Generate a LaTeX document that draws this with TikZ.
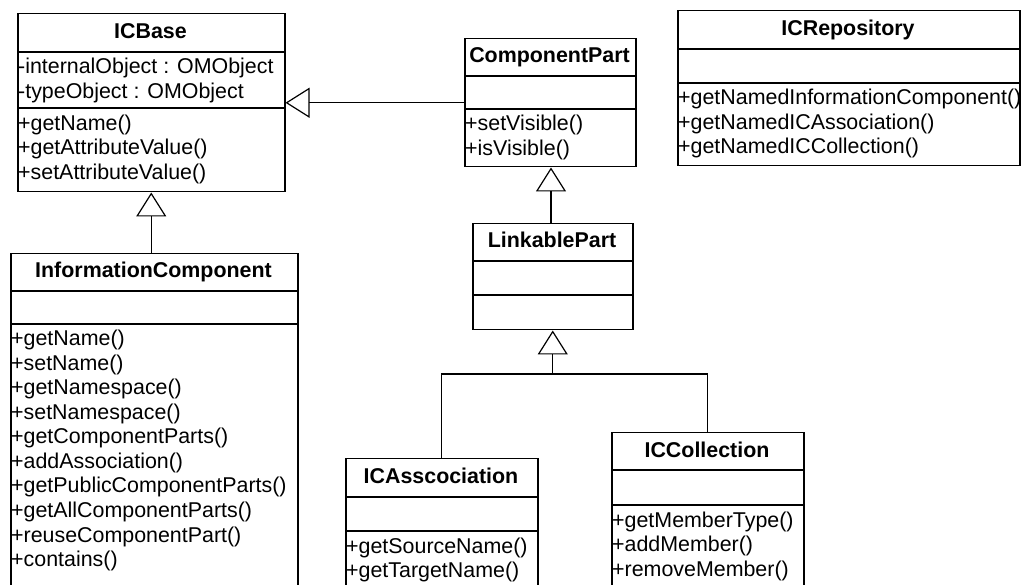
\documentclass[tikz,border=0pt]{standalone}
\usepackage{fontspec}
\setmainfont{Liberation Sans}
\usetikzlibrary{arrows.meta}
\begin{document}
\begin{tikzpicture}[x=1pt,y=-1pt,
  cls/.style={draw, line width=1.5pt, rectangle, inner sep=0pt, anchor=north west},
  sepline/.style={line width=1.5pt},
  ttl/.style={anchor=base, inner sep=0pt, font=\fontsize{21.4}{24.5}\selectfont\bfseries},
  mem/.style={anchor=base west, inner sep=0pt, font=\fontsize{21.4}{24.5}\selectfont},
  gen/.style={line width=1.2pt, -{Triangle[open, length=24pt, width=30pt, line width=1.2pt]}},
  link/.style={line width=1.2pt}]
\fill[white] (0,0) rectangle (1021,585);
\useasboundingbox (0,0) rectangle (1021,585);

% ICBase
\node[cls, minimum width=267pt, minimum height=178pt] (icbase) at (17,13) {};
\draw[sepline] (icbase.west |- 0,52) -- (icbase.east |- 0,52);
\draw[sepline] (icbase.west |- 0,108) -- (icbase.east |- 0,108);
\node[ttl] (icbaseT) at (150.5,38.5) {ICBase};
\foreach \t [count=\i] in {{-internalObject : OMObject},{-typeObject : OMObject}}
  \node[mem] (icbaseA\i) at (18,{74+(\i-1)*24.5}) {\t};
\foreach \t [count=\i] in {+getName(),+getAttributeValue(),+setAttributeValue()}
  \node[mem] (icbaseM\i) at (18,{130.5+(\i-1)*24.5}) {\t};

% ComponentPart
\node[cls, minimum width=171pt, minimum height=128pt] (cp) at (464,38) {};
\draw[sepline] (cp.west |- 0,76) -- (cp.east |- 0,76);
\draw[sepline] (cp.west |- 0,109) -- (cp.east |- 0,109);
\node[ttl] (cpT) at (549.5,63) {ComponentPart};
\foreach \t [count=\i] in {+setVisible(),+isVisible()}
  \node[mem] (cpM\i) at (465,{131+(\i-1)*24.5}) {\t};

% ICRepository
\node[cls, minimum width=342pt, minimum height=155pt] (repo) at (677,10) {};
\draw[sepline] (repo.west |- 0,49) -- (repo.east |- 0,49);
\draw[sepline] (repo.west |- 0,83) -- (repo.east |- 0,83);
\node[ttl] (repoT) at (848,35.5) {ICRepository};
\foreach \t [count=\i] in {+getNamedInformationComponent(),+getNamedICAssociation(),+getNamedICCollection()}
  \node[mem] (repoM\i) at (678,{105+(\i-1)*24.5}) {\t};

% InformationComponent
\node[cls, minimum width=287pt, minimum height=360pt] (ic) at (10,253) {};
\draw[sepline] (ic.west |- 0,291) -- (ic.east |- 0,291);
\draw[sepline] (ic.west |- 0,324) -- (ic.east |- 0,324);
\node[ttl] (icT) at (153.5,278) {InformationComponent};
\foreach \t [count=\i] in {+getName(),+setName(),+getNamespace(),+setNamespace(),+getComponentParts(),+addAssociation(),+getPublicComponentParts(),+getAllComponentParts(),+reuseComponentPart(),+contains()}
  \node[mem] (icM\i) at (11,{346+(\i-1)*24.5}) {\t};

% LinkablePart
\node[cls, minimum width=160pt, minimum height=106pt] (lp) at (472,223) {};
\draw[sepline] (lp.west |- 0,261) -- (lp.east |- 0,261);
\draw[sepline] (lp.west |- 0,295) -- (lp.east |- 0,295);
\node[ttl] (lpT) at (552,248) {LinkablePart};

% ICAsscociation
\node[cls, minimum width=192pt, minimum height=160pt] (assoc) at (345,458) {};
\draw[sepline] (assoc.west |- 0,497) -- (assoc.east |- 0,497);
\draw[sepline] (assoc.west |- 0,531) -- (assoc.east |- 0,531);
\node[ttl] (assocT) at (441,483.5) {ICAsscociation};
\foreach \t [count=\i] in {+getSourceName(),+getTargetName()}
  \node[mem] (assocM\i) at (346,{553+(\i-1)*24.5}) {\t};

% ICCollection
\node[cls, minimum width=192pt, minimum height=180pt] (coll) at (611,432) {};
\draw[sepline] (coll.west |- 0,470) -- (coll.east |- 0,470);
\draw[sepline] (coll.west |- 0,505) -- (coll.east |- 0,505);
\node[ttl] (collT) at (707,457) {ICCollection};
\foreach \t [count=\i] in {+getMemberType(),+addMember(),+removeMember()}
  \node[mem] (collM\i) at (612,{527+(\i-1)*24.5}) {\t};

% Generalizations
\draw[gen] (cp.west |- icbase.east) -- (icbase.east);
\draw[gen] (ic.north -| icbase.south) -- (icbase.south);
\draw[gen] (lp.north -| 551,0) -- (cp.south -| 551,0);
\coordinate (join) at (lp.south |- 0,374);
\draw[link] (assoc.north) |- (join) -| (coll.north);
\draw[gen] (join) -- (lp.south);
\end{tikzpicture}
\end{document}
